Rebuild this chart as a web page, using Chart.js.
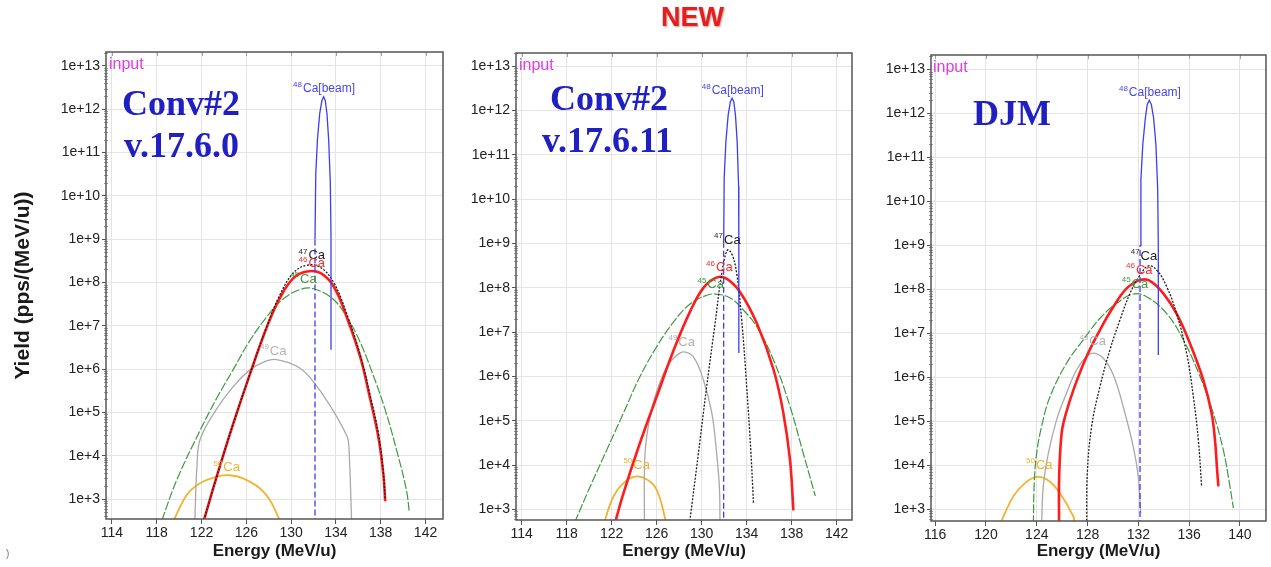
<!DOCTYPE html>
<html>
<head>
<meta charset="utf-8">
<script src="https://cdn.jsdelivr.net/npm/chart.js@4/dist/chart.umd.min.js"></script>
<style>
  html, body { margin: 0; padding: 0; background: #fff; }
  #wrap { position: relative; width: 1271px; height: 567px; overflow: hidden; background: #fff;
          font-family: "Liberation Sans", Arial, sans-serif; }
  .panel { position: absolute; top: 0; height: 567px; }
  .panel canvas { display: block; }
  .big { position: absolute; font-family: "Liberation Serif", "Times New Roman", serif; font-weight: bold;
         font-size: 36px; line-height: 36px; color: #1f1fc2; white-space: nowrap; }
  .inp { position: absolute; font-size: 16px; line-height: 16px; color: #e53be5; white-space: nowrap; }
  #newt { position: absolute; left: 661px; top: 4px; font-size: 27px; line-height: 27px; font-weight: bold;
          color: #ee1b1b; text-shadow: 1px 1px 2px rgba(0,0,0,0.35); }
  #mark { position: absolute; left: 6px; top: 548px; font-size: 10px; color: #777; }
</style>
</head>
<body>
<div id="wrap">
  <div class="panel" style="left:0px;width:450px"><canvas id="c1" width="450" height="567"></canvas></div>
  <div class="panel" style="left:450px;width:410px"><canvas id="c2" width="410" height="567"></canvas></div>
  <div class="panel" style="left:860px;width:411px"><canvas id="c3" width="411" height="567"></canvas></div>

  <div id="newt">NEW</div>
  <div class="big" style="left:122px;top:85px">Conv#2</div>
  <div class="big" style="left:124px;top:127px">v.17.6.0</div>
  <div class="big" style="left:550px;top:80px">Conv#2</div>
  <div class="big" style="left:542px;top:122px">v.17.6.11</div>
  <div class="big" style="left:973px;top:95px">DJM</div>
  <div class="inp" style="left:109px;top:56px">input</div>
  <div class="inp" style="left:519px;top:57px">input</div>
  <div class="inp" style="left:933px;top:59px">input</div>
  <div id="mark">)</div>
</div>

<script>
// ---------------- Axis ticks ----------------
const xTicks1 = [114, 118, 122, 126, 130, 134, 138, 142];
const xTicks2 = [114, 118, 122, 126, 130, 134, 138, 142];
const xTicks3 = [116, 120, 124, 128, 132, 136, 140];
const yTickValues = [1e3, 1e4, 1e5, 1e6, 1e7, 1e8, 1e9, 1e10, 1e11, 1e12, 1e13];
const yTickLabels = ['1e+3', '1e+4', '1e+5', '1e+6', '1e+7', '1e+8', '1e+9', '1e+10', '1e+11', '1e+12', '1e+13'];

// Curve names (mass number superscript + element)
const curveMass = ['48', '47', '46', '45', '49', '50'];
const curveName = ['Ca[beam]', 'Ca', 'Ca', 'Ca', 'Ca', 'Ca'];

// ---------------- Panel 1: Conv#2 v.17.6.0 ----------------
const p1_beam_E = [132.13, 132.13, 132.2, 132.35, 132.55, 132.75, 132.9, 133.05, 133.2, 133.35, 133.5, 133.56, 133.56];
const p1_beam_Y = [1e2, 1e9, 3.2e10, 2.0e11, 7.9e11, 1.6e12, 1.95e12, 1.6e12, 7.9e11, 2.0e11, 2.0e10, 1e9, 2.8e6];
const p1_ca47_E = [122.2, 123.4, 124.8, 126.3, 127.8, 129.0, 130.2, 131.4, 132.6, 133.8, 135.0, 136.2, 137.05, 137.8, 138.24, 138.4];
const p1_ca47_Y = [3.2e2, 3.6e3, 5.2e4, 7.4e5, 9.3e6, 5.2e7, 1.66e8, 2.5e8, 2.24e8, 1.0e8, 1.78e7, 2.0e6, 2.5e5, 3.2e4, 4.0e3, 1.0e3];
const p1_ca46_E = [122.2, 123.4, 124.8, 126.3, 127.8, 129.0, 130.2, 131.4, 132.6, 133.8, 135.0, 136.2, 137.05, 137.8, 138.24, 138.4];
const p1_ca46_Y = [3.2e2, 3.6e3, 5.2e4, 7.4e5, 8.9e6, 4.4e7, 1.26e8, 1.8e8, 1.66e8, 8.1e7, 1.5e7, 1.8e6, 2.1e5, 2.6e4, 3.6e3, 8.9e2];
const p1_ca45_E = [118.45, 119.8, 121.9, 123.4, 124.85, 126.3, 127.8, 129.2, 130.8, 132.0, 133.8, 135.1, 136.2, 137.2, 138.35, 139.5, 140.3, 140.55];
const p1_ca45_Y = [3.2e2, 2.8e3, 4.0e4, 2.24e5, 1.0e6, 4.5e6, 1.58e7, 4.0e7, 6.9e7, 7.2e7, 4.0e7, 1.41e7, 4.0e6, 8.9e5, 1.26e5, 1.12e4, 1.58e3, 5.0e2];
const p1_ca49_E = [121.4, 121.6, 121.9, 123.4, 124.85, 126.3, 127.8, 128.7, 130.8, 132.3, 133.8, 135.0, 135.15, 135.4];
const p1_ca49_Y = [3.2e2, 6.3e3, 2.5e4, 1.26e5, 4.0e5, 9.5e5, 1.55e6, 1.66e6, 1.05e6, 4.0e5, 1.05e5, 2.8e4, 1.8e4, 3.2e2];
const p1_ca50_E = [119.5, 120.7, 121.9, 123.4, 124.55, 125.7, 127.2, 128.1, 129.0];
const p1_ca50_Y = [3.2e2, 1.26e3, 2.34e3, 3.3e3, 3.55e3, 3.0e3, 1.78e3, 9.5e2, 3.2e2];

// ---------------- Panel 2: Conv#2 v.17.6.11 ----------------
const p2_beam_E = [131.95, 131.95, 132.0, 132.15, 132.35, 132.55, 132.7, 132.85, 133.0, 133.15, 133.28, 133.3, 133.3];
const p2_beam_Y = [1e2, 1e9, 3.2e10, 2.0e11, 7.9e11, 1.6e12, 1.9e12, 1.6e12, 7.9e11, 2.0e11, 2.0e10, 1e9, 3.4e6];
const p2_ca47_E = [128.9, 129.7, 130.44, 131.19, 131.78, 132.28, 132.67, 133.11, 133.56, 134.0, 134.36, 134.6];
const p2_ca47_Y = [4.5e2, 1.8e4, 5.9e5, 1.58e7, 2.1e8, 7.1e8, 5.9e8, 2.1e8, 1.8e7, 5.8e5, 2.2e4, 1.4e3];
const p2_ca46_E = [122.25, 123.04, 124.5, 126.0, 127.5, 128.96, 130.15, 131.3, 132.2, 133.4, 134.9, 136.4, 137.26, 137.85, 138.15];
const p2_ca46_Y = [4.5e2, 2.3e3, 3.1e4, 3.5e5, 3.9e6, 2.9e7, 1.0e8, 1.7e8, 1.62e8, 8.1e7, 1.58e7, 1.38e6, 1.48e5, 1.29e4, 9.5e2];
const p2_ca45_E = [118.7, 120.07, 121.56, 123.04, 124.5, 126.0, 127.5, 128.96, 130.44, 131.3, 132.5, 133.7, 134.9, 136.4, 137.85, 139.04, 140.1];
const p2_ca45_Y = [5.0e2, 3.2e3, 2.2e4, 1.48e5, 9.8e5, 4.7e6, 1.7e7, 4.3e7, 6.8e7, 7.2e7, 6.0e7, 3.16e7, 1.32e7, 2.3e6, 2.1e5, 1.8e4, 2.0e3];
const p2_ca49_E = [124.9, 124.96, 125.4, 126.0, 126.9, 127.8, 128.37, 129.26, 130.15, 130.9, 131.33, 131.57, 131.63];
const p2_ca49_Y = [4.5e2, 1.8e4, 1.23e5, 4.5e5, 1.66e6, 3.0e6, 3.6e6, 2.75e6, 8.3e5, 1.48e5, 1.8e4, 3.2e3, 4.5e2];
const p2_ca50_E = [121.26, 122.15, 123.04, 124.07, 125.1, 126.0, 126.9];
const p2_ca50_Y = [4.5e2, 1.95e3, 3.9e3, 5.5e3, 4.8e3, 2.75e3, 4.5e2];

// ---------------- Panel 3: DJM ----------------
const p3_beam_E = [132.13, 132.13, 132.2, 132.35, 132.55, 132.7, 132.86, 133.02, 133.2, 133.38, 133.52, 133.57, 133.57];
const p3_beam_Y = [1e2, 1e9, 3.2e10, 2.0e11, 7.9e11, 1.6e12, 2.0e12, 1.6e12, 7.9e11, 2.0e11, 2.0e10, 1e9, 3.2e6];
const p3_ca47_E = [127.93, 127.98, 128.32, 128.98, 129.76, 130.55, 131.34, 132.13, 132.78, 133.44, 134.23, 135.01, 135.8, 136.33, 136.72, 136.98];
const p3_ca47_Y = [4.5e2, 6.6e3, 7.6e4, 6.2e5, 4.2e6, 2.0e7, 8.1e7, 2.1e8, 3.4e8, 2.75e8, 1.15e8, 2.8e7, 3.5e6, 3.6e5, 3.8e4, 3.3e3];
const p3_ca46_E = [125.75, 125.77, 125.96, 126.22, 126.88, 127.93, 128.98, 130.03, 131.08, 132.13, 132.91, 133.96, 135.01, 136.06, 137.11, 137.77, 138.03, 138.2, 138.3];
const p3_ca46_Y = [4.5e2, 6.6e3, 5.4e4, 1.26e5, 5.1e5, 3.0e6, 1.2e7, 4.0e7, 1.05e8, 1.62e8, 1.55e8, 8.1e7, 2.8e7, 5.9e6, 8.7e5, 1.5e5, 3.8e4, 7.8e3, 3.3e3];
const p3_ca45_E = [123.73, 123.8, 123.99, 124.38, 125.04, 126.35, 127.66, 128.98, 130.29, 131.6, 132.65, 134.23, 135.54, 136.85, 137.9, 138.69, 139.21, 139.48];
const p3_ca45_Y = [4.5e2, 3.9e3, 1.86e4, 7.6e4, 3.6e5, 2.1e6, 7.1e6, 2.2e7, 4.8e7, 7.8e7, 6.8e7, 2.8e7, 7.1e6, 1.05e6, 1.5e5, 2.2e4, 3.3e3, 1.05e3];
const p3_ca49_E = [124.38, 124.51, 124.91, 125.56, 126.35, 127.14, 127.93, 128.45, 129.24, 130.03, 130.81, 131.6, 131.99, 132.18];
const p3_ca49_Y = [4.5e2, 3.3e3, 1.86e4, 1.07e5, 4.4e5, 1.48e6, 3.0e6, 3.55e6, 2.7e6, 1.12e6, 2.1e5, 2.6e4, 5.5e3, 8.1e2];
const p3_ca50_E = [121.1, 122.15, 123.07, 123.99, 124.91, 125.83, 126.88, 127.0];
const p3_ca50_Y = [4.5e2, 1.95e3, 3.9e3, 5.4e3, 4.5e3, 2.3e3, 6.8e2, 4.5e2];

// ---------------- Styles ----------------
const curveStyles = [
  { color: '#3d3df2', label: '#4646f0', width: 1.3, dash: null, vertDash: [6, 3] },
  { color: '#1e1e1e', label: '#1e1e1e', width: 1.3, dash: [2, 1.5] },
  { color: '#ff1c1c', label: '#ff2a2a', width: 2.6, dash: null },
  { color: '#3f9a3f', label: '#3f9a3f', width: 1.2, dash: [9, 2] },
  { color: '#a9a9a9', label: '#b3b3b3', width: 1.3, dash: null },
  { color: '#f2b331', label: '#f2b331', width: 1.8, dash: null }
];

const panels = [
  { id: 'c1', W: 450, L: 106, T: 52, R: 443, B: 519, xMin: 113.47, xMax: 143.56, yMin: 347, yMax: 2.1e13,
    xTicks: xTicks1, yTitle: true,
    curves: [[p1_beam_E, p1_beam_Y], [p1_ca47_E, p1_ca47_Y], [p1_ca46_E, p1_ca46_Y], [p1_ca45_E, p1_ca45_Y], [p1_ca49_E, p1_ca49_Y], [p1_ca50_E, p1_ca50_Y]],
    labelAt: [[132.94, 3.1e12], [131.84, 4.4e8], [131.84, 2.9e8], [131.1, 1.26e8], [128.4, 2.75e6], [124.25, 5.6e3]] },
  { id: 'c2', W: 410, L: 66, T: 53, R: 402, B: 520, xMin: 113.49, xMax: 143.36, yMin: 575, yMax: 2.0e13,
    xTicks: xTicks2, yTitle: false,
    curves: [[p2_beam_E, p2_beam_Y], [p2_ca47_E, p2_ca47_Y], [p2_ca46_E, p2_ca46_Y], [p2_ca45_E, p2_ca45_Y], [p2_ca49_E, p2_ca49_Y], [p2_ca50_E, p2_ca50_Y]],
    labelAt: [[132.76, 3.0e12], [132.28, 1.26e9], [131.57, 3.0e8], [130.8, 1.26e8], [128.22, 6.3e6], [124.22, 1.05e4]] },
  { id: 'c3', W: 411, L: 71, T: 55, R: 406, B: 521, xMin: 115.67, xMax: 142.05, yMin: 537, yMax: 2.14e13,
    xTicks: xTicks3, yTitle: false,
    curves: [[p3_beam_E, p3_beam_Y], [p3_ca47_E, p3_ca47_Y], [p3_ca46_E, p3_ca46_Y], [p3_ca45_E, p3_ca45_Y], [p3_ca49_E, p3_ca49_Y], [p3_ca50_E, p3_ca50_Y]],
    labelAt: [[132.91, 3.1e12], [132.44, 6.0e8], [132.07, 2.9e8], [131.73, 1.38e8], [128.4, 6.8e6], [124.2, 1.07e4]] }
];

const FONT = '"Liberation Sans", Arial, sans-serif';

const framePlugin = {
  id: 'frame',
  afterDatasetsDraw(chart) {
    const { ctx, chartArea: a, scales: { x, y } } = chart;
    ctx.save();
    ctx.strokeStyle = '#a0a0a0';
    ctx.lineWidth = 1;
    ctx.beginPath();
    for (let d = 2; d <= 13; d++) {
      for (let k = 2; k <= 9; k++) {
        const v = k * Math.pow(10, d);
        if (v < y.min || v > y.max) continue;
        const py = Math.round(y.getPixelForValue(v)) + 0.5;
        ctx.moveTo(a.left - 2, py); ctx.lineTo(a.left + 2, py);
      }
    }
    x.ticks.forEach(t => {
      const px = Math.round(x.getPixelForValue(t.value)) + 0.5;
      ctx.moveTo(px, a.top); ctx.lineTo(px, a.top + 4);
    });
    ctx.stroke();
    ctx.strokeStyle = '#555';
    ctx.lineWidth = 1.5;
    ctx.strokeRect(a.left, a.top, a.right - a.left, a.bottom - a.top);
    ctx.restore();
  }
};

function labelPlugin(panel) {
  return {
    id: 'curveLabels',
    afterDatasetsDraw(chart) {
      const { ctx, scales: { x, y } } = chart;
      ctx.save();
      ctx.textAlign = 'left';
      ctx.textBaseline = 'alphabetic';
      panel.labelAt.forEach((pos, i) => {
        const px = x.getPixelForValue(pos[0]);
        const py = y.getPixelForValue(pos[1]);
        const size = i === 0 ? 12 : 13;
        const supF = '8px ' + FONT, mainF = size + 'px ' + FONT;
        ctx.font = supF;
        const w1 = ctx.measureText(curveMass[i]).width;
        ctx.font = mainF;
        const w2 = ctx.measureText(curveName[i]).width;
        const sx = px - (w1 + w2 + 1) / 2;
        const base = py + size * 0.36;
        ctx.fillStyle = curveStyles[i].label;
        ctx.font = supF;
        ctx.fillText(curveMass[i], sx, base - size * 0.42);
        ctx.font = mainF;
        ctx.fillText(curveName[i], sx + w1 + 1, base);
      });
      ctx.restore();
    }
  };
}

function buildChart(panel) {
  const datasets = panel.curves.map((c, i) => {
    const st = curveStyles[i];
    const ds = {
      data: c[0].map((e, k) => ({ x: e, y: c[1][k] })),
      borderColor: st.color,
      borderWidth: st.width,
      pointRadius: 0,
      pointHoverRadius: 0,
      fill: false,
      showLine: true
    };
    if (st.dash) ds.borderDash = st.dash;
    if (i === 0) {
      ds.tension = 0;
      ds.segment = {
        borderDash: ctx => (Math.abs(ctx.p1.parsed.x - ctx.p0.parsed.x) < 1e-6 ? st.vertDash : undefined)
      };
    } else {
      ds.tension = 0.4;
    }
    return ds;
  });

  return new Chart(document.getElementById(panel.id), {
    type: 'scatter',
    data: { datasets },
    options: {
      responsive: false,
      maintainAspectRatio: false,
      animation: false,
      events: [],
      layout: { padding: { left: 0, top: panel.T, right: panel.W - panel.R, bottom: 0 } },
      plugins: { legend: { display: false }, tooltip: { enabled: false } },
      scales: {
        x: {
          type: 'linear',
          min: panel.xMin,
          max: panel.xMax,
          bounds: 'data',
          afterBuildTicks: s => { s.ticks = panel.xTicks.map(v => ({ value: v })); },
          afterFit: s => { s.height = 567 - panel.B; },
          ticks: { autoSkip: false, maxRotation: 0, padding: 1, color: '#222', font: { family: FONT, size: 14 },
                   callback: v => String(v) },
          grid: { color: '#e4e4e4', tickColor: '#555', tickLength: 5, drawTicks: true },
          border: { display: false },
          title: { display: true, text: 'Energy (MeV/u)', color: '#1a1a1a',
                   font: { family: FONT, size: 17, weight: 'bold' }, padding: { top: 0, bottom: 5 } }
        },
        y: {
          type: 'logarithmic',
          min: panel.yMin,
          max: panel.yMax,
          bounds: 'data',
          afterBuildTicks: s => { s.ticks = yTickValues.map(v => ({ value: v })); },
          afterFit: s => { s.width = panel.L; },
          ticks: { autoSkip: false, padding: 2, color: '#222', font: { family: FONT, size: 14 },
                   callback: v => { const i = yTickValues.indexOf(v); return i >= 0 ? yTickLabels[i] : ''; } },
          grid: { color: '#e4e4e4', tickColor: '#555', tickLength: 4, drawTicks: true },
          border: { display: false },
          title: { display: panel.yTitle, text: 'Yield (pps/(MeV/u))', color: '#1a1a1a',
                   font: { family: FONT, size: 21, weight: 'bold' }, padding: { top: 11, bottom: 0 } }
        }
      }
    },
    plugins: [framePlugin, labelPlugin(panel)]
  });
}

panels.forEach(buildChart);
</script>
</body>
</html>
